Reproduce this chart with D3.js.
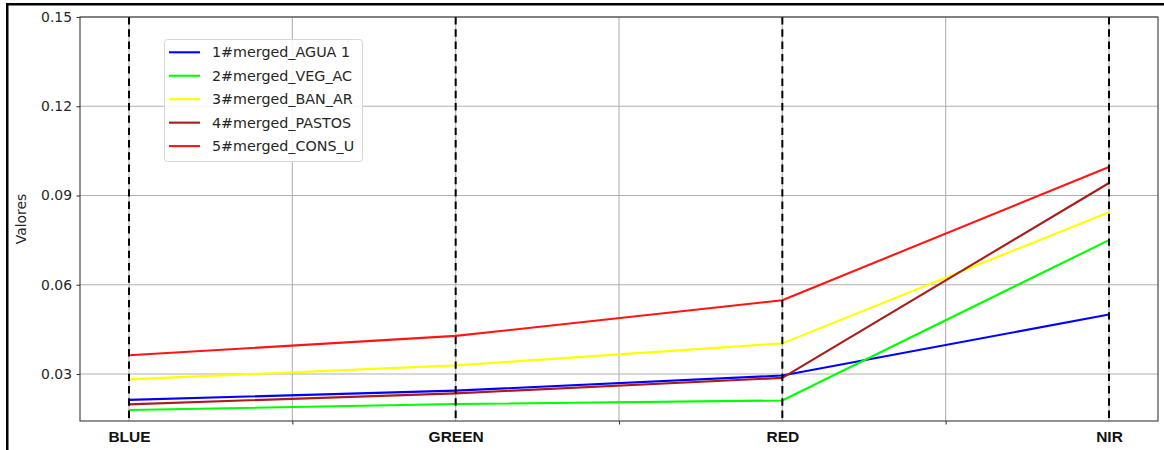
<!DOCTYPE html>
<html>
<head>
<meta charset="utf-8">
<script src="https://d3js.org/d3.v7.min.js"></script>
<style>
  html, body { margin: 0; padding: 0; background: #fff; }
  svg { display: block; }
</style>
</head>
<body>
<svg id="chart" width="1164" height="450"></svg>
<script>
// ---- data ----
const categories = ["BLUE", "GREEN", "RED", "NIR"];
const seriesNames = ["1#merged_AGUA 1", "2#merged_VEG_AC", "3#merged_BAN_AR", "4#merged_PASTOS", "5#merged_CONS_U"];
const seriesColors = ["#0000ff", "#00ff00", "#ffff00", "#a81c1c", "#ff1414"];
const agua   = [0.0213, 0.0244, 0.0295, 0.0500];
const veg    = [0.0179, 0.0199, 0.0211, 0.0750];
const banAr  = [0.0282, 0.0329, 0.0403, 0.0844];
const pastos = [0.0198, 0.0235, 0.0287, 0.0942];
const consU  = [0.0363, 0.0428, 0.0548, 0.0996];
const seriesValues = [agua, veg, banAr, pastos, consU];
const yTicks = [0.03, 0.06, 0.09, 0.12, 0.15];
const yTickLabels = ["0.03", "0.06", "0.09", "0.12", "0.15"];
const xMinorTicks = [0.5, 1.5, 2.5];
const yLabel = "Valores";

// ---- layout ----
const svg = d3.select("#chart");
const L = 80, R = 1158, T = 17, B = 421;
const font = "'DejaVu Sans', sans-serif";

const x = d3.scaleLinear().domain([-0.15, categories.length - 1 + 0.15]).range([L, R]);
const y = d3.scaleLinear().domain([0.0142, 0.15]).range([B, T]);

// frame (black border of the screenshot)
svg.append("rect").attr("x", 6).attr("y", 3).attr("width", 1164 - 6).attr("height", 2.5).attr("fill", "#000");
svg.append("rect").attr("x", 6).attr("y", 3).attr("width", 2.5).attr("height", 450 - 3).attr("fill", "#000");

// grid
const grid = svg.append("g");
grid.selectAll("line.h").data(yTicks).enter().append("line")
  .attr("x1", L).attr("x2", R)
  .attr("y1", d => y(d)).attr("y2", d => y(d))
  .attr("stroke", "#b0b0b0").attr("stroke-width", 1.1);
grid.selectAll("line.v").data(xMinorTicks.concat(d3.range(categories.length))).enter().append("line")
  .attr("x1", d => x(d)).attr("x2", d => x(d))
  .attr("y1", T).attr("y2", B)
  .attr("stroke", "#b0b0b0").attr("stroke-width", 1.1);

// series lines
const line = d3.line().x((d, i) => x(i)).y(d => y(d));
svg.append("g").selectAll("path").data(seriesValues).enter().append("path")
  .attr("d", d => line(d))
  .attr("fill", "none")
  .attr("stroke", (d, i) => seriesColors[i])
  .attr("stroke-width", 2.1)
  .attr("stroke-linejoin", "round");

// dashed vertical lines at categories
svg.append("g").selectAll("line").data(d3.range(categories.length)).enter().append("line")
  .attr("x1", d => x(d)).attr("x2", d => x(d))
  .attr("y1", T).attr("y2", B)
  .attr("stroke", "#000").attr("stroke-width", 2)
  .attr("stroke-dasharray", "7.4,4.9");

// spines
svg.append("rect").attr("x", L).attr("y", T).attr("width", R - L).attr("height", B - T)
  .attr("fill", "none").attr("stroke", "#3a3a3a").attr("stroke-width", 1.1);

// y axis
const yAxis = d3.axisLeft(y).tickValues(yTicks).tickFormat((d, i) => yTickLabels[i])
  .tickSize(3.5).tickPadding(4.5);
const gy = svg.append("g").attr("transform", `translate(${L},0)`).call(yAxis);
gy.select(".domain").remove();
gy.selectAll(".tick line").attr("stroke", "#3a3a3a").attr("stroke-width", 1.1);
gy.selectAll(".tick text").attr("font-family", font).attr("font-size", "13.9px").attr("fill", "#262626");

// x axis: minor tick marks at half positions, bold labels at categories
const xAxis = d3.axisBottom(x).tickValues(xMinorTicks).tickFormat("").tickSize(3.5);
const gx = svg.append("g").attr("transform", `translate(0,${B})`).call(xAxis);
gx.select(".domain").remove();
gx.selectAll(".tick line").attr("stroke", "#3a3a3a").attr("stroke-width", 1.1);
const xLab = d3.axisBottom(x).tickValues(d3.range(categories.length)).tickFormat(i => categories[i])
  .tickSize(0).tickPadding(10);
const gxl = svg.append("g").attr("transform", `translate(0,${B})`).call(xLab);
gxl.select(".domain").remove();
gxl.selectAll(".tick text").attr("font-family", "'Liberation Sans', Arial, sans-serif").attr("font-size", "15.5px")
  .attr("font-weight", "bold").attr("fill", "#111");

// y label
svg.append("text")
  .attr("transform", `translate(26,${(T + B) / 2}) rotate(-90)`)
  .attr("text-anchor", "middle")
  .attr("font-family", font).attr("font-size", "13.9px").attr("fill", "#262626")
  .text(yLabel);

// legend
const lg = svg.append("g");
lg.append("rect").attr("x", 164.5).attr("y", 39.5).attr("width", 198).attr("height", 122)
  .attr("rx", 3).attr("fill", "#fff").attr("fill-opacity", 0.85)
  .attr("stroke", "#d6d6d6").attr("stroke-width", 1);
const rows = lg.selectAll("g.item").data(seriesNames).enter().append("g")
  .attr("transform", (d, i) => `translate(0,${52.3 + i * 23.45})`);
rows.append("line").attr("x1", 169).attr("x2", 200).attr("y1", 0).attr("y2", 0)
  .attr("stroke", (d, i) => seriesColors[i]).attr("stroke-width", 2.1);
rows.append("text").attr("x", 212).attr("y", 0).attr("dy", "0.36em")
  .attr("font-family", font).attr("font-size", "14.3px").attr("fill", "#262626")
  .text(d => d);
</script>
</body>
</html>
